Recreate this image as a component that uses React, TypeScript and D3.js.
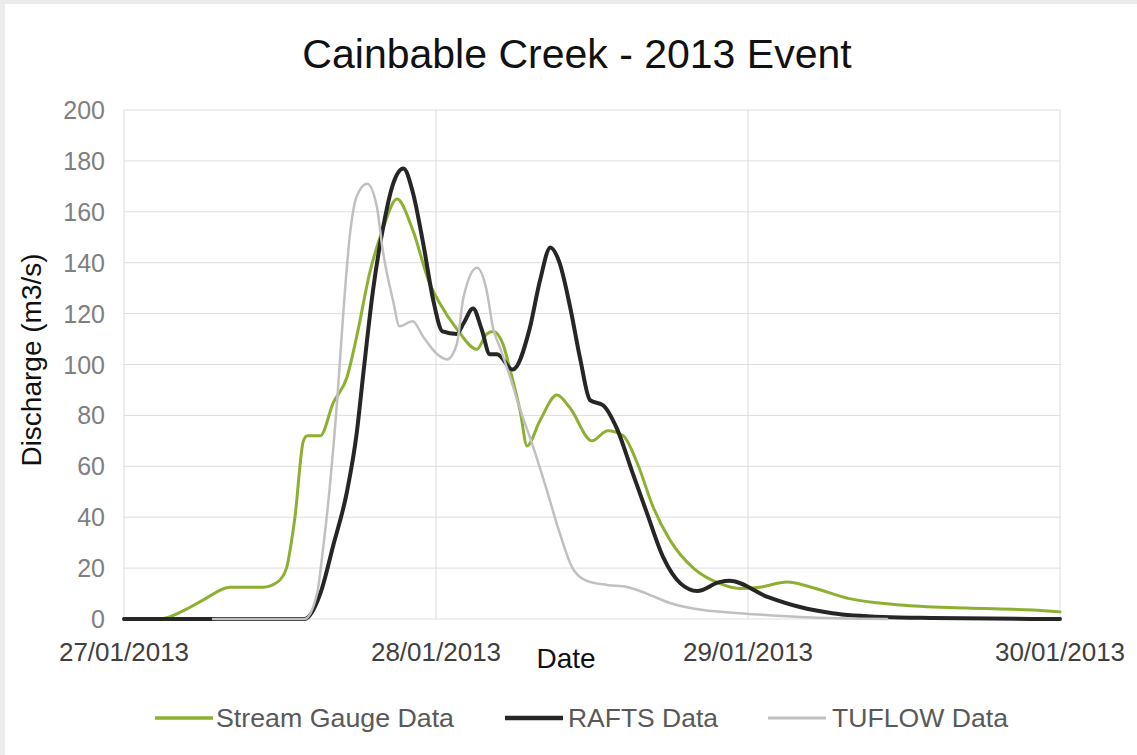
import React from "react";
import * as d3 from "d3";

const TITLE = "Cainbable Creek - 2013 Event";
const SERIES_NAMES = ["Stream Gauge Data", "RAFTS Data", "TUFLOW Data"];
const X_TICKS = ["27/01/2013", "28/01/2013", "29/01/2013", "30/01/2013"];
const Y_TICKS = [0, 20, 40, 60, 80, 100, 120, 140, 160, 180, 200];

// hours after 27/01/2013 00:00
const gaugeHours = [0, 2.8, 3.3, 4.85, 6.1, 8.15, 10.7, 11.8, 12.5, 12.9, 13.15, 13.8, 14.1, 15.1, 16.1, 17.15, 17.9, 18.9, 19.9, 21, 22.2, 23.5, 24.3, 25.6, 27.15, 27.9, 28.4, 29.15, 29.7, 30.5, 31, 32, 33.3, 34.3, 36, 37.2, 38.4, 39.5, 40.7, 42, 43.8, 45.8, 47.4, 48.9, 51, 52.8, 55.8, 59.7, 64.8, 69.9, 72];
const gaugeFlow = [0, 0, 0.5, 4, 7.5, 12.5, 12.5, 14.5, 20, 31, 40, 70, 72, 72, 85, 95, 111, 136, 153, 165, 153, 132, 124, 114, 106, 112, 113, 108, 98, 81, 68, 78, 88, 83, 70, 74, 72, 61, 44, 31, 20, 14, 12, 12.5, 14.5, 12.6, 8, 5.5, 4.3, 3.5, 2.8];

const raftsHours = [0, 13.9, 15.1, 16.1, 17.15, 17.9, 18.4, 19.15, 19.9, 20.7, 21.5, 22.2, 23, 23.8, 24.5, 25.6, 26.1, 26.85, 27.5, 28.15, 28.7, 29.9, 31.2, 32, 32.8, 33.5, 34.3, 35.1, 35.85, 36.85, 37.9, 39.15, 40.2, 41.5, 42.8, 44.1, 45.8, 46.6, 49.5, 52, 54.5, 58.4, 62.2, 72];
const raftsFlow = [0, 0, 10, 29, 50, 73, 96, 129, 153, 171, 177, 168, 148, 125, 113, 112, 116, 122, 114, 104, 104, 98, 114, 133, 146, 140, 123, 102, 86, 84, 75, 57, 42, 24, 14, 11, 14.5, 15, 8.7, 4.7, 2.3, 0.8, 0.4, 0];

const tuflowHours = [6.85, 13.9, 14.85, 15.3, 15.85, 16.4, 16.85, 17.4, 17.9, 18.7, 19.45, 19.9, 20.7, 21.2, 22.2, 23, 24.1, 24.85, 25.6, 26.1, 27.15, 27.9, 28.4, 28.9, 29.7, 30.5, 31.45, 32.5, 33.5, 34.5, 35.6, 37.15, 38.7, 40.2, 42, 44.55, 47.4, 52, 58.7];
const tuflowFlow = [0, 0, 10, 27, 53, 86, 119, 152, 166, 171, 162, 145, 125, 115, 117, 111, 104, 102, 108, 126, 138, 129, 114, 107, 95, 82, 68, 51, 34, 20, 15, 13.4, 12.6, 10, 6.3, 3.5, 2.3, 0.8, 0];

const COLORS = ["#8db031", "#262626", "#c0c0c0"];
const WIDTHS = [3, 4, 2.5];

const start = new Date(2013, 0, 27, 0, 0);
const toDate = (h: number) => new Date(start.getTime() + h * 3600 * 1000);

export default function App() {
  const W = 1137, H = 755;
  const x = d3.scaleTime().domain([new Date(2013, 0, 27), new Date(2013, 0, 30)]).range([124, 1060]);
  const y = d3.scaleLinear().domain([0, 200]).range([619, 110]);
  const tickDates = [0, 1, 2, 3].map((d) => new Date(2013, 0, 27 + d));

  const series = [
    { hours: gaugeHours, flow: gaugeFlow },
    { hours: raftsHours, flow: raftsFlow },
    { hours: tuflowHours, flow: tuflowFlow },
  ];
  const line = d3
    .line<[number, number]>()
    .x((d) => x(toDate(d[0])))
    .y((d) => y(d[1]))
    .curve(d3.curveMonotoneX);

  const legendItems = [
    { lx: 155, tx: 216, w: 238 },
    { lx: 505, tx: 568, w: 150 },
    { lx: 768, tx: 832, w: 176 },
  ];
  const font = "'Liberation Sans', Arial, sans-serif";

  return (
    <div style={{ position: "fixed", left: 0, top: 0 }}>
      <svg width={W} height={H} style={{ display: "block" }} fontFamily={font}>
        <rect x={0} y={0} width={W} height={H} fill="#ebebeb" />
        <rect x={5} y={4} width={W - 5} height={H - 4} fill="#ffffff" />
        <text x={577} y={68} textAnchor="middle" fontSize={41} fill="#111">
          {TITLE}
        </text>
        {Y_TICKS.map((t) => (
          <g key={t}>
            <line x1={124} x2={1060} y1={y(t)} y2={y(t)} stroke="#dedede" strokeWidth={1} />
            <text x={105} y={y(t) + 9} textAnchor="end" fontSize={25} fill="#7f7f7f">
              {t}
            </text>
          </g>
        ))}
        {tickDates.map((d, i) => (
          <g key={i}>
            <line x1={x(d)} x2={x(d)} y1={110} y2={619} stroke="#dedede" strokeWidth={1} />
            <text x={x(d)} y={661} textAnchor="middle" fontSize={26} fill="#404040">
              {X_TICKS[i]}
            </text>
          </g>
        ))}
        <text x={566} y={668} textAnchor="middle" fontSize={28} fill="#111">
          Date
        </text>
        <text transform="translate(41,360) rotate(-90)" textAnchor="middle" fontSize={28} fill="#111">
          Discharge (m3/s)
        </text>
        {series.map((s, i) => {
          const pts: [number, number][] = s.hours.map((h, j) => [h, s.flow[j]]);
          return (
            <path
              key={i}
              d={line(pts) || ""}
              fill="none"
              stroke={COLORS[i]}
              strokeWidth={WIDTHS[i]}
              strokeLinejoin="round"
              strokeLinecap="round"
            />
          );
        })}
        {legendItems.map((it, i) => (
          <g key={i}>
            <line x1={it.lx} x2={it.lx + 58} y1={718} y2={718} stroke={COLORS[i]} strokeWidth={WIDTHS[i] + 0.5} />
            <text x={it.tx} y={727} fontSize={26} fill="#595959" textLength={it.w} lengthAdjust="spacingAndGlyphs">
              {SERIES_NAMES[i]}
            </text>
          </g>
        ))}
      </svg>
    </div>
  );
}
